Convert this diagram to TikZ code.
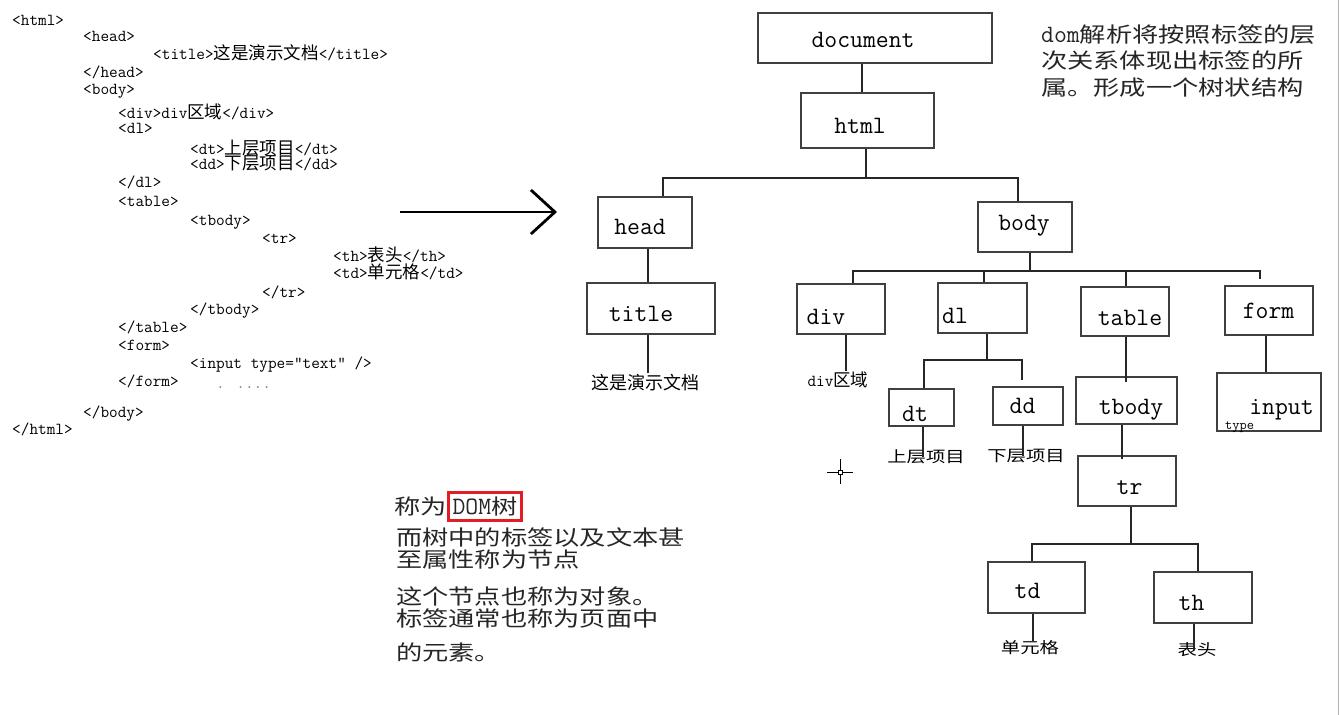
\documentclass[tikz,border=0pt]{standalone}
\usepackage{fontspec}
\usepackage{tikz}
\usetikzlibrary{positioning}
\usetikzlibrary{arrows.meta}

\newfontfamily\cjk{Noto Sans CJK SC}
\newfontfamily\cjkwide[FakeStretch=1.25]{Noto Sans CJK SC}
\definecolor{markred}{RGB}{228,28,36}

\newcommand\codefont{\fontsize{16.8}{18}\selectfont\ttfamily}
\newcommand\zh[1]{{\cjk\fontsize{17.5}{18}\selectfont #1}}
\newcommand\tagfont{\fontsize{25}{26}\selectfont\ttfamily}
\newcommand\notefont{\cjkwide\fontsize{21}{26}\selectfont}
\newcommand\mono[1]{{\fontsize{25}{26}\selectfont\ttfamily #1}}

\tikzset{
  code/.style={anchor=base west, inner sep=0pt, font=\codefont},
  tag/.style={draw=black!75, line width=1.4pt, inner sep=0pt},
  tagtext/.style={anchor=base, inner sep=0pt, font=\tagfont},
  leaf/.style={inner sep=0pt, font=\cjkwide\fontsize{15.5}{16}\selectfont},
  note/.style={anchor=base west, inner sep=0pt, text=black!85, font=\notefont},
  link/.style={draw=black!85, line width=1.4pt},
}

\begin{document}
\begin{tikzpicture}[x=1pt, y=-1pt]

  \fill[white] (0,0) rectangle (1339,715);
  \useasboundingbox (0,0) rectangle (1339,715);
  \draw[black!30, line width=1pt] (1338,0) -- (1338,715);

	%html source
    \foreach \x/\y/\txt [count=\i] in {12/25/{<html>}, 83/41/{<head>}, 153/59/{<title>\zh{这是演示文档}</title>}, 83/77/{</head>}, 83/94/{<body>},
      118/118/{<div>div\zh{区域}</div>}, 118/133/{<dl>}, 190/154/{<dt>\zh{上层项目}</dt>}, 190/169/{<dd>\zh{下层项目}</dd>}, 118/187/{</dl>},
      118/206/{<table>}, 190/225/{<tbody>}, 262/243/{<tr>}, 333/261/{<th>\zh{表头}</th>}, 333/278/{<td>\zh{单元格}</td>},
      262/297/{</tr>}, 190/314/{</tbody>}, 118/332/{</table>}, 118/350/{<form>}, 190/368/{<input type="text" />},
      118/386/{</form>}, 216/388/{\color{gray}. ....}, 83/417/{</body>}, 12/434/{</html>}}{
        \node[code] (code\i) at (\x,\y) {\txt};
    }

    \coordinate (arrowtail) at (400,212);
    \coordinate (arrowtip) at (557,212);
    \draw[line width=2.8pt, -{Straight Barb[length=24pt,width=44pt]}] (arrowtail) -- (arrowtip);

	%tree boxes
    \foreach \name/\x/\y/\w/\h/\tx/\ty in {document/875/38/234/50/863/47, html/867.5/120.5/133/55/860/133,
      head/645/222.5/94/51/640/234, body/1025/227/94/50/1024/230, title/651/308.5/128/51/641/321,
      div/841/309/88/50/826/324, dl/982.5/308/89/50/955/323, dt/921.5/407.5/65/37/915/421,
      dd/1028/406/70/38/1022.5/413, table/1125/311.5/88/49/1130/325, tbody/1126.5/400.5/101/47/1131/414,
      tr/1127/481/98/50/1129.5/494, td/1036.5/587.5/97/51/1027.5/598, th/1203/597.5/98/51/1191.5/610,
      form/1269/310.5/88/49/1268.5/318, input/1269/402/104/58/1281.5/414}{
        \node[tag, minimum width=\w pt, minimum height=\h pt] (\name) at (\x,\y) {};
        \node[tagtext] (\name-t) at (\tx,\ty) {\name};
    }
    \node[anchor=base west, inner sep=0pt, font=\fontsize{14}{14}\selectfont\ttfamily] (inputtype) at (1225,429) {type};

	%text leaves
    \node[inner sep=1pt, font=\cjk\fontsize{18}{18}\selectfont] (titlelbl) at (645,383) {这是演示文档};
    \node[inner sep=1pt, font=\codefont] (divlbl) at (838,380) {div\zh{区域}};
    \node[leaf] (dtlbl) at (926,457) {上层项目};
    \node[leaf] (ddlbl) at (1026,456) {下层项目};
    \node[leaf] (tdlbl) at (1030,648) {单元格};
    \node[leaf] (thlbl) at (1197,650) {表头};

	%branches
    \coordinate (htmlfork) at (866,178);
    \coordinate (bodyfork) at (1030,271);
    \coordinate (dlfork) at (987,360);
    \coordinate (trfork) at (1131,544);

    \draw[link] ([xshift=-13pt]document.south) -- ([xshift=-5.5pt]html.north);
    \draw[link] ([xshift=-1.5pt]html.south) -- (htmlfork);
    \draw[link] ([xshift=18pt]head.north) |- (htmlfork) -| ([xshift=-7pt]body.north);
    \draw[link] ([xshift=3pt]head.south) -- ([xshift=-3pt]title.north);
    \draw[link] ([xshift=-3pt]title.south) -- ([xshift=3pt]titlelbl.north);
    \draw[link] ([xshift=5pt]body.south) -- (bodyfork);
    \draw[link] ([xshift=12pt]div.north) |- (bodyfork) -| ([xshift=-9pt,yshift=6pt]form.north);
    \draw[link] ([xshift=1.5pt]dl.north) -- ([xshift=1.5pt]dl.north |- bodyfork);
    \draw[link] ([xshift=1pt]table.north) -- ([xshift=1pt]table.north |- bodyfork);
    \draw[link] ([xshift=5pt]div.south) -- ([xshift=8pt]divlbl.north);
    \draw[link] ([xshift=4.5pt]dl.south) -- (dlfork);
    \draw[link] ([xshift=2.5pt]dt.north) |- (dlfork) -| ([xshift=-6pt,yshift=6pt]dd.north);
    \draw[link] ([xshift=1.5pt]dt.south) -- ([xshift=-3pt]dtlbl.center);
    \draw[link] ([xshift=-5pt]dd.south) -- ([xshift=-3pt]ddlbl.center);
    \draw[link] ([xshift=1pt]table.south) -- ([xshift=1pt,yshift=-6pt]table.south |- tbody.north);
    \draw[link] ([xshift=-4.5pt]tbody.south) -- ([xshift=-4.5pt,yshift=-4pt]tbody.south |- tr.north);
    \draw[link] ([xshift=4pt]tr.south) -- (trfork);
    \draw[link] ([xshift=-4.5pt]td.north) |- (trfork) -| ([xshift=-5pt]th.north);
    \draw[link] ([xshift=-3.5pt]td.south) -- ([xshift=3pt]tdlbl.north);
    \draw[link] ([xshift=-9pt]th.south) -- ([xshift=-3pt]thlbl.center);
    \draw[link] ([xshift=-3pt]form.south) -- ([xshift=-3pt]input.north);

	%notes
    \foreach \y/\txt [count=\i] in {42/{\mono{dom}解析将按照标签的层}, 68/{次关系体现出标签的所}, 95/{属。形成一个树状结构}}{
        \node[note] (note\i) at (1041,\y) {\txt};
    }

    \node[draw=markred, line width=2.8pt, inner sep=0pt, minimum width=73pt, minimum height=28pt,
      text=black!85, font=\notefont] (domtree) at (485,506.5) {\mono{DOM}树};
    \node[note, left=0pt of domtree] (callit) {称为};
    \foreach \y/\txt [count=\i] in {545/而树中的标签以及文本甚, 567/至属性称为节点, 604/这个节点也称为对象。, 626/标签通常也称为页面中, 660/的元素。}{
        \node[note] (blurb\i) at (396,\y) {\txt};
    }

	%cursor
    \draw[line width=1pt] (840,459) -- (840,484) (827,472) -- (853,472);
    \draw[fill=white, line width=0.8pt] (838,470) rectangle (842,474);

\end{tikzpicture}
\end{document}
